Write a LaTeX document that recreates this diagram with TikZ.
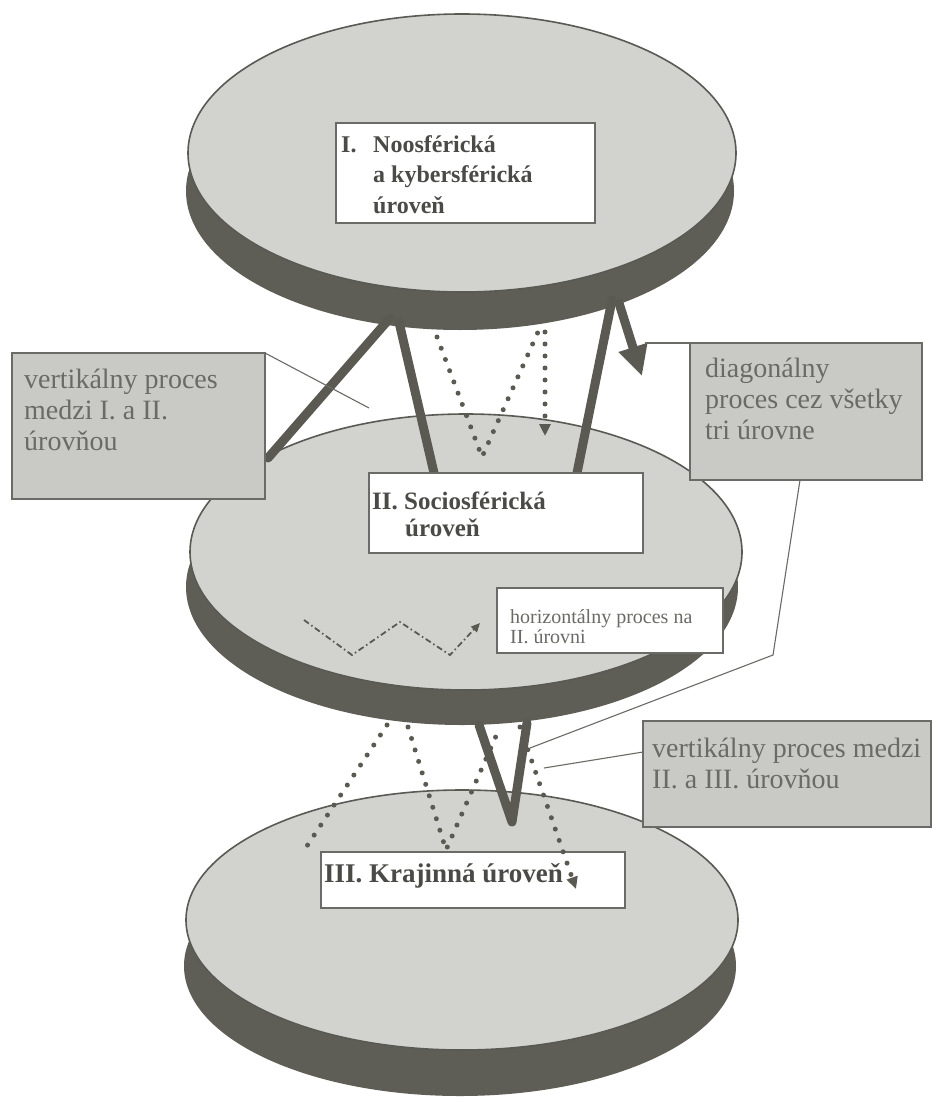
\documentclass[tikz,border=0pt]{standalone}
\usepackage{fontspec}
\setmainfont{Liberation Serif}
\usetikzlibrary{arrows.meta}
\definecolor{facec}{HTML}{D2D2CF}
\definecolor{rimc}{HTML}{5E5E56}
\definecolor{edgec}{HTML}{5A5A55}
\definecolor{boxgray}{HTML}{C9C9C6}
\definecolor{boxedge}{HTML}{6A6A66}
\definecolor{linec}{HTML}{5A5A52}
\definecolor{graytext}{HTML}{6A6A67}
\definecolor{darktext}{HTML}{4A4A47}
\begin{document}
\begin{tikzpicture}[x=1pt,y=-1pt,
  rimfill/.style={fill=rimc},
  face/.style={fill=facec,draw=edgec,line width=1.6pt},
  graybox/.style={draw=boxedge,fill=boxgray,line width=1.3pt,inner sep=0pt,outer sep=0pt,anchor=north west},
  whitebox/.style={draw=boxedge,fill=white,line width=1.3pt,inner sep=0pt,outer sep=0pt,anchor=north west},
  graytxt/.style={font=\fontsize{28pt}{31pt}\selectfont,text=graytext,align=left,inner sep=0pt,anchor=base west},
  boldtxt/.style={font=\fontsize{25pt}{30pt}\selectfont\bfseries,text=darktext,align=left,inner sep=0pt,anchor=base west},
  smalltxt/.style={font=\fontsize{20pt}{20pt}\selectfont,text=graytext,align=left,inner sep=0pt,anchor=base west},
  thickline/.style={draw=linec,line width=9pt,line cap=round,line join=round},
  dotline/.style={draw=linec,line width=5pt,line cap=round,dash pattern=on 0pt off 12pt},
  dashdotline/.style={draw=linec,line width=1.8pt,dash pattern=on 6pt off 3pt on 1.5pt off 3pt},
  leader/.style={draw=boxedge,line width=1.1pt},
  bighead/.style={-{Triangle[length=30pt,width=28pt]}},
  smallhead/.style={-{Triangle[length=12pt,width=11pt]}},
  tinyhead/.style={-{Triangle[length=9pt,width=8pt]}}
]
\useasboundingbox (0,0) rectangle (933,1102);
\fill[white] (0,0) rectangle (933,1102);

% discs
\fill[rimfill] (460,966) ellipse [x radius=276, y radius=130];
\draw[face] (462,920) ellipse [x radius=276, y radius=130];

\fill[rimfill] (462,587) ellipse [x radius=276, y radius=138];
\draw[face] (466,552) ellipse [x radius=276, y radius=138];

\fill[rimfill] (460,191) ellipse [x radius=274, y radius=139];
\draw[face] (462,153) ellipse [x radius=274, y radius=139];

% connector end points
\coordinate (l1s) at (390,318);
\coordinate (l1e) at (268,458);
\coordinate (l2s) at (399,322);
\coordinate (l2e) at (434,473);
\coordinate (l3s) at (612,300);
\coordinate (l3e) at (577,473);
\coordinate (as) at (618,300);
\coordinate (ae) at (642,376);
\coordinate (d1a) at (437,337);
\coordinate (d1b) at (482,457);
\coordinate (d1c) at (538,332);
\coordinate (d2a) at (545,332);
\coordinate (d2b) at (545,436);
\coordinate (d3a) at (387,725);
\coordinate (d3b) at (303,852);
\coordinate (d4a) at (408,727);
\coordinate (d4b) at (446,850);
\coordinate (d4c) at (500,727);
\coordinate (d5a) at (520,727);
\coordinate (d5b) at (576,889);
\coordinate (va) at (479,725);
\coordinate (vb) at (512,822);
\coordinate (vc) at (527,723);
\coordinate (z1) at (304,620);
\coordinate (z2) at (352,655);
\coordinate (z3) at (400,622);
\coordinate (z4) at (450,655);
\coordinate (z5) at (480,623);

% processes
\draw[thickline] (l1s) -- (l1e);
\draw[thickline] (l2s) -- (l2e);
\draw[thickline] (l3s) -- (l3e);
\draw[thickline,line cap=butt,bighead] (as) -- (ae);
\draw[dotline] (d1a) -- (d1b) -- (d1c);
\draw[dotline,smallhead] (d2a) -- (d2b);
\draw[dotline] (d3a) -- (d3b);
\draw[dotline] (d4a) -- (d4b) -- (d4c);
\draw[thickline] (va) -- (vb) -- (vc);
\draw[dashdotline,tinyhead] (z1) -- (z2) -- (z3) -- (z4) -- (z5);

% boxes
\node[graybox,minimum width=253pt,minimum height=146pt] (lbox) at (12,353) {};
\node[graybox,minimum width=232pt,minimum height=137pt] (dbox) at (690,343) {};
\node[graybox,minimum width=288pt,minimum height=106pt] (vbox) at (643,721) {};
\node[whitebox,minimum width=259pt,minimum height=100pt] (box1) at (336,123) {};
\node[whitebox,minimum width=274pt,minimum height=80pt] (box2) at (369,473) {};
\node[whitebox,minimum width=226pt,minimum height=65pt] (hbox) at (497,588) {};
\node[whitebox,minimum width=304pt,minimum height=56pt] (box3) at (321,852) {};

% dotted arrow running into the level III box
\draw[dotline,smallhead] (d5a) -- (d5b);

% leaders
\coordinate (lpt) at (369,408);
\coordinate (dtop) at (645,343);
\coordinate (dbot) at (800,480);
\coordinate (dbend) at (773,655);
\coordinate (dpt) at (530,748);
\coordinate (vatt) at (643,752);
\coordinate (vpt) at (544,768);
\draw[leader] (lbox.north east) -- (lpt);
\draw[leader] (dbox.north west) -- (dtop);
\draw[leader] (dbot) -- (dbend) -- (dpt);
\draw[leader] (vatt) -- (vpt);

% texts (anchored at the baseline of the last line)
\node[graytxt] (lt) at (24,450) {vertikálny proces\\medzi I. a II.\\úrovňou};
\node[graytxt] (dt) at (705,439) {diagonálny\\proces cez všetky\\tri úrovne};
\node[graytxt] (vt) at (652,788) {vertikálny proces medzi\\II. a III. úrovňou};
\node[boldtxt,font=\fontsize{24pt}{30.5pt}\selectfont\bfseries] (t1) at (341,213) {\makebox[32pt][l]{I.}Noosférická\\\hspace*{32pt}a kybersférická\\\hspace*{32pt}úroveň};
\node[boldtxt,font=\fontsize{25pt}{27pt}\selectfont\bfseries] (t2) at (372,536) {II. Sociosférická\\\hspace*{33pt}úroveň};
\node[smalltxt] (ht) at (510,643) {horizontálny proces na\\II. úrovni};
\node[boldtxt,font=\fontsize{27pt}{30pt}\selectfont\bfseries] (t3) at (324,882) {III. Krajinná úroveň};
\end{tikzpicture}
\end{document}
